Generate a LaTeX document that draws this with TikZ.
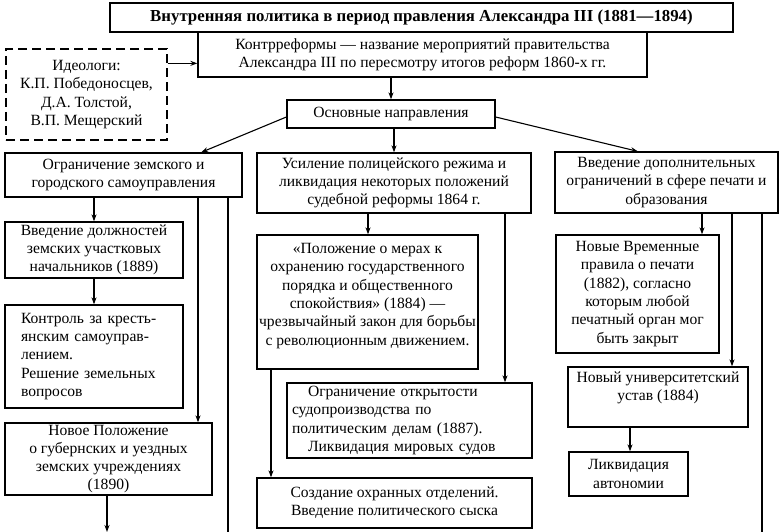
\documentclass[tikz,border=0pt]{standalone}
\usepackage{fontspec}
\setmainfont{Liberation Serif}
\usetikzlibrary{arrows.meta,calc}
\begin{document}
\begin{tikzpicture}[x=1pt,y=-1pt,
  box/.style={draw=black,line width=1.3pt,inner sep=1pt,align=center,
    font=\fontsize{15.6}{18.3}\selectfont},
  dbox/.style={box,dash pattern=on 9pt off 5pt},
  txt/.style={inner sep=0pt,align=center,font=\fontsize{15.6}{18.3}\selectfont},
  arr/.style={line width=1.1pt,-{Stealth[length=7pt,width=5pt]}},
  ln/.style={line width=1.1pt}]
\useasboundingbox (0,0) rectangle (784,532);
\fill[white] (0,0) rectangle (784,532);

% top
\node[box,minimum width=623pt,minimum height=29pt,font=\fontsize{16.8}{18}\selectfont\bfseries] (title) at (421.5,17.5)
  {Внутренняя политика в период правления Александра III (1881—1894)};
\node[box,minimum width=449pt,minimum height=45pt] (kontr) at (422.5,54.5)
  {Контрреформы — название мероприятий правительства\\Александра III по пересмотру итогов реформ 1860-х гг.};
\node[dbox,minimum width=161pt,minimum height=91pt] (ideo) at (86.5,94.5)
  {Идеологи:\\К.П. Победоносцев,\\Д.А. Толстой,\\В.П. Мещерский};
\node[box,minimum width=208pt,minimum height=28pt] (osn) at (391,114) {Основные направления};

% row 1
\node[box,minimum width=237pt,minimum height=44pt] (l1) at (123.5,175)
  {Ограничение земского и\\городского самоуправления};
\node[box,minimum width=274pt,minimum height=60pt] (m1) at (394,183)
  {Усиление полицейского режима и\\ликвидация некоторых положений\\судебной реформы 1864 г.};
\node[box,minimum width=223pt,minimum height=61pt] (r1) at (666.5,182.5)
  {Введение дополнительных\\ограничений в сфере печати и\\образования};

% left column
\node[box,minimum width=178pt,minimum height=56pt] (l2) at (94,250)
  {Введение должностей\\земских участковых\\начальников (1889)};
\node[box,minimum width=178pt,minimum height=103pt,text width=146pt,align=left] (l3) at (94,356.5)
  {Контроль за кресть-\\янским самоуправ-\\лением.\\Решение земельных\\вопросов};
\node[box,minimum width=207pt,minimum height=72pt] (l4) at (108.5,459)
  {Новое Положение\\о губернских и уездных\\земских учреждениях\\(1890)};

% middle column
\node[box,minimum width=221pt,minimum height=134pt] (m2) at (367.5,302) {};
\node[txt] (m2t) at ([yshift=6pt]m2.center)
  {«Положение о мерах к\\охранению государственного\\порядка и общественного\\спокойствия» (1884) —\\чрезвычайный закон для борьбы\\с революционным движением.};
\node[box,minimum width=245pt,minimum height=75pt,text width=235pt,align=left] (m3) at (409.5,420.5)
  {\hspace*{16pt}Ограничение открытости\\судопроизводства по\\политическим делам (1887).\\\hspace*{16pt}Ликвидация мировых судов};
\node[box,minimum width=275pt,minimum height=50pt] (m4) at (394.5,503)
  {Создание охранных отделений.\\Введение политического сыска};

% right column
\node[box,minimum width=163pt,minimum height=118pt] (r2) at (637.5,294)
  {Новые Временные\\правила о печати\\(1882), согласно\\которым любой\\печатный орган мог\\быть закрыт};
\node[box,minimum width=180pt,minimum height=60pt] (r3) at (658,397) {};
\node[txt] (r3t) at ([yshift=9.5pt]r3.center) {Новый университетский\\устав (1884)};
\node[box,minimum width=119pt,minimum height=44pt] (r4) at (628.5,474) {Ликвидация\\автономии};

% free ends
\coordinate (lend1) at (228,532);
\coordinate (lend2) at (107,532);
\coordinate (rend) at (762,532);

% connectors
\draw[arr] ([yshift=-15pt]ideo.north east) -- ([yshift=-15pt]ideo.north east -| kontr.west);
\draw[arr] (kontr.south -| osn.north) -- (osn.north);
\draw[arr] ([yshift=-3pt]osn.west) -- ($(l1.north west)!0.826!(l1.north east)$);
\draw[arr] (osn.south -| m1.north) -- (m1.north);
\draw[arr] ([yshift=-3pt]osn.east) -- ($(r1.north west)!0.372!(r1.north east)$);

\draw[arr] (l1.south -| l2.north) -- (l2.north);
\draw[arr] (l2.south) -- (l3.north);
\draw[arr] (l1.south -| 198,0) -- (l4.north -| 198,0);
\draw[ln] (l1.south -| lend1) -- (lend1);
\draw[arr] (l4.south -| lend2) -- (lend2);

\draw[arr] (m1.south -| 368,0) -- (m2.north -| 368,0);
\draw[arr] (m1.south -| 505,0) -- (m3.north -| 505,0);
\draw[arr] (m2.south -| 271,0) -- (m4.north -| 271,0);

\draw[arr] (r1.south -| 702,0) -- (r2.north -| 702,0);
\draw[arr] (r1.south -| 732,0) -- (r3.north -| 732,0);
\draw[ln] (r1.south -| rend) -- (rend);
\draw[arr] (r3.south -| 630,0) -- (r4.north -| 630,0);
\end{tikzpicture}
\end{document}
